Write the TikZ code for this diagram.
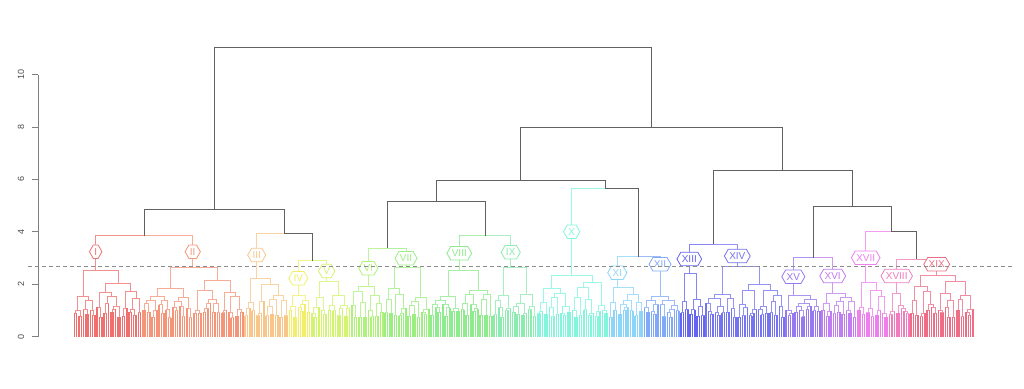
\documentclass[tikz,border=0pt]{standalone}
\usepackage{fontspec}
\setsansfont{Liberation Sans}
\usetikzlibrary{shapes.symbols}
\definecolor{cI}{HTML}{F07070}
\definecolor{cII}{HTML}{F4957A}
\definecolor{cIII}{HTML}{F8C68A}
\definecolor{cIV}{HTML}{F2EE6A}
\definecolor{cV}{HTML}{D2F46E}
\definecolor{cVI}{HTML}{AEF27A}
\definecolor{cVII}{HTML}{9CEE82}
\definecolor{cVIII}{HTML}{8EEB8E}
\definecolor{cIX}{HTML}{8CEBAE}
\definecolor{cX}{HTML}{82F5DC}
\definecolor{cXI}{HTML}{8CD4F8}
\definecolor{cXII}{HTML}{80AAF8}
\definecolor{cXIII}{HTML}{6464F0}
\definecolor{cXIV}{HTML}{7474F0}
\definecolor{cXV}{HTML}{9678F0}
\definecolor{cXVI}{HTML}{C07CF0}
\definecolor{cXVII}{HTML}{EE80EE}
\definecolor{cXVIII}{HTML}{F07CBE}
\definecolor{cXIX}{HTML}{EE6E86}
\colorlet{ccl}{black}
\colorlet{ccd}{black}
\tikzset{
  tl/.style={draw=ccl, line width=0.75pt},
  leafl/.style={draw=ccd, line width=1.5pt},
  blk/.style={draw=black!62, line width=0.9pt},
  lab/.style={signal, signal to=east and west, signal pointer angle=120, draw, fill=white,
    line width=0.8pt, inner xsep=1pt, inner ysep=3.3pt, font=\sffamily\fontsize{10}{12}\selectfont},
  tick/.style={font=\sffamily\fontsize{9}{10}\selectfont, text=black!70, rotate=90}
}
% height of a subtree with #2 leaves under a parent of height #3
\def\DHgt#1#2#3{\ifnum#2<2 \def#1{0}\else
  \pgfmathsetmacro#1{min(0.9*#3, 26.2*(0.55+0.5*ln(#2))*(0.8+0.35*rnd))}\fi}
% random subtree: #1 left edge, #2 leaf width, #3 leaves, #4 height
\def\DTree#1#2#3#4{%
  \ifnum#3<2
    \pgfmathsetmacro\rx{#1+0.5*#2}\global\let\retx\rx
  \else
    \begingroup
    \edef\tX{#1}\edef\tW{#2}\edef\tN{#3}\edef\tH{#4}%
    \pgfmathtruncatemacro\na{max(1,min(\tN-1,round(\tN*(0.3+0.4*rnd))))}%
    \pgfmathtruncatemacro\nb{\tN-\na}%
    \DHgt\Ha\na\tH
    \DHgt\Hb\nb\tH
    \pgfmathsetmacro\xs{\tX+\na*\tW}%
    \edef\next{\noexpand\DTree{\tX}{\tW}{\na}{\Ha}}\next\let\xl\retx
    \edef\next{\noexpand\DTree{\xs}{\tW}{\nb}{\Hb}}\next\let\xr\retx
    \draw[tl] (\xl,336.5-\Ha) -- (\xl,336.5-\tH) -- (\xr,336.5-\tH) -- (\xr,336.5-\Hb);
    \ifnum\na=1 \draw[leafl] (\xl,336.5) -- (\xl,336.5-\tH);\fi
    \ifnum\nb=1 \draw[leafl] (\xr,336.5) -- (\xr,336.5-\tH);\fi
    \pgfmathsetmacro\rx{(\xl+\xr)/2}\global\let\retx\rx
    \endgroup
  \fi}
% cluster: #1 colour, #2 a, #3 b, #4 n, #5 xc, #6 root y, #7 parent y, #8 parent x
\def\DClust#1#2#3#4#5#6#7#8{%
  \begingroup
  \colorlet{ccl}{#1!78!white}\colorlet{ccd}{#1}%
  \pgfmathsetmacro\cw{(#3-#2)/#4}%
  \pgfmathtruncatemacro\cna{max(1,min(#4-1,round((#5-#2)/\cw)))}%
  \pgfmathtruncatemacro\cnb{#4-\cna}%
  \pgfmathsetmacro\cH{336.5-#6}%
  \DHgt\cHa\cna\cH
  \DHgt\cHb\cnb\cH
  \pgfmathsetmacro\cxb{#2+\cna*\cw}%
  \edef\next{\noexpand\DTree{#2}{\cw}{\cna}{\cHa}}\next\let\cxl\retx
  \edef\next{\noexpand\DTree{\cxb}{\cw}{\cnb}{\cHb}}\next\let\cxr\retx
  \draw[tl] (\cxl,336.5-\cHa) -- (\cxl,#6) -- (\cxr,#6) -- (\cxr,336.5-\cHb);
  \draw[tl] (#8,#7) -- (#5,#7) -- (#5,#6);
  \endgroup}
\begin{document}
\begin{tikzpicture}[x=1pt,y=-1pt]
\useasboundingbox (0,0) rectangle (1024,388);
\pgfmathsetseed{4242}
% top-level merge positions
\pgfmathsetmacro\nA{(95.7+192.7)/2}
\pgfmathsetmacro\nB{(298.3+326.7)/2}
\pgfmathsetmacro\nC{(256.7+\nB)/2}
\pgfmathsetmacro\nL{(\nA+\nC)/2}
\pgfmathsetmacro\nD{(368.3+406)/2}
\pgfmathsetmacro\nE{(459.3+510.7)/2}
\pgfmathsetmacro\nF{(\nD+\nE)/2}
\pgfmathsetmacro\nG{(617.3+660)/2}
\pgfmathsetmacro\nH{(571.7+\nG)/2}
\pgfmathsetmacro\nJ{(\nF+\nH)/2}
\pgfmathsetmacro\nK{(689.3+737.3)/2}
\pgfmathsetmacro\nM{(793.3+832.7)/2}
\pgfmathsetmacro\nN{(896.7+936.7)/2}
\pgfmathsetmacro\nP{(865.7+\nN)/2}
\pgfmathsetmacro\nQ{(\nM+\nP)/2}
\pgfmathsetmacro\nR{(\nK+\nQ)/2}
\pgfmathsetmacro\nS{(\nJ+\nR)/2}
% axis
\draw[draw=black!50, line width=0.9pt] (38,74.6) coordinate (ytop) -- (38,336.5) coordinate (ybot);
\foreach \v [count=\i from 0] in {0,2,4,6,8,10} {
  \draw[draw=black!50, line width=0.9pt] (38,336.5-52.38*\i) -- (31.5,336.5-52.38*\i);
  \node[tick] (t\i) at (21,336.5-52.38*\i) {\v};
}
% clusters
\DClust{cI}{73.3}{141.7}{30}{95.7}{270}{235.7}{\nA}
\DClust{cII}{141.7}{244}{44}{192.7}{267.3}{235.7}{\nA}
\DClust{cIII}{244}{288.3}{19}{256.7}{278.3}{233.3}{\nC}
\DClust{cIV}{288.3}{310.7}{10}{298.3}{295}{260.7}{\nB}
\DClust{cV}{310.7}{350.7}{17}{326.7}{281.7}{260.7}{\nB}
\DClust{cVI}{350.7}{384}{14}{368.3}{286.7}{248.3}{\nD}
\DClust{cVII}{384}{430}{20}{406}{267.3}{248.3}{\nD}
\DClust{cVIII}{430}{493}{27}{459.3}{270.7}{235.7}{\nE}
\DClust{cIX}{493}{536.7}{19}{510.7}{267.7}{235.7}{\nE}
\DClust{cX}{536.7}{608.3}{31}{571.7}{275}{188.3}{\nH}
\DClust{cXI}{608.3}{643.3}{15}{617.3}{287.3}{256.7}{\nG}
\DClust{cXII}{643.3}{680}{16}{660}{296}{256.7}{\nG}
\DClust{cXIII}{680}{705}{11}{689.3}{273.3}{244}{\nK}
\DClust{cXIV}{705}{785}{35}{737.3}{266}{244}{\nK}
\DClust{cXV}{785}{821}{16}{793.3}{295}{257.7}{\nM}
\DClust{cXVI}{821}{856.7}{16}{832.7}{293.3}{257.7}{\nM}
\DClust{cXVII}{856.7}{888.3}{14}{865.7}{282.7}{231.7}{\nP}
\DClust{cXVIII}{888.3}{910}{9}{896.7}{293.3}{259.3}{\nN}
\DClust{cXIX}{910}{974}{28}{936.7}{275}{259.3}{\nN}
% black upper structure
\draw[blk] (\nA,235.7) -- (\nA,209) -- (\nC,209) -- (\nC,233.3) -- (\nB,233.3) -- (\nB,260.7);
\draw[blk] (\nL,209) -- (\nL,47) -- (\nS,47) -- (\nS,127);
\draw[blk] (\nJ,180) -- (\nJ,127) -- (\nR,127) -- (\nR,170);
\draw[blk] (\nD,248.3) -- (\nD,201) -- (\nE,201) -- (\nE,235.7);
\draw[blk] (\nF,201) -- (\nF,180) -- (\nH,180) -- (\nH,188.3) -- (\nG,188.3) -- (\nG,256.7);
\draw[blk] (\nK,244) -- (\nK,170) -- (\nQ,170) -- (\nQ,206);
\draw[blk] (\nM,257.7) -- (\nM,206) -- (\nP,206) -- (\nP,231.7) -- (\nN,231.7) -- (\nN,259.3);
% cluster labels
\foreach \t/\x/\y/\c in {I/95.7/251.7/cI, II/192.7/251.7/cII, III/256.7/255/cIII, IV/298.3/278.3/cIV,
  V/326.7/271/cV, VI/368.3/268.3/cVI, VII/406/258.3/cVII, VIII/459.3/253.3/cVIII, IX/510.7/252.3/cIX,
  X/571.7/231.7/cX, XI/617.3/272.7/cXI, XII/660/264.3/cXII, XIII/689.3/259/cXIII, XIV/737.3/256/cXIV,
  XV/793.3/276.7/cXV, XVI/832.7/276/cXVI, XVII/865.7/257.7/cXVII, XVIII/896.7/276/cXVIII, XIX/936.7/264.3/cXIX}
  \node[lab, draw=\c, text=\c] (L\t) at (\x,\y) {\t};
% cut line
\draw[draw=black!45, line width=1pt, dash pattern=on 4pt off 3pt] (28,266) coordinate (cutA) -- (1012,266) coordinate (cutB);
\end{tikzpicture}
\end{document}
